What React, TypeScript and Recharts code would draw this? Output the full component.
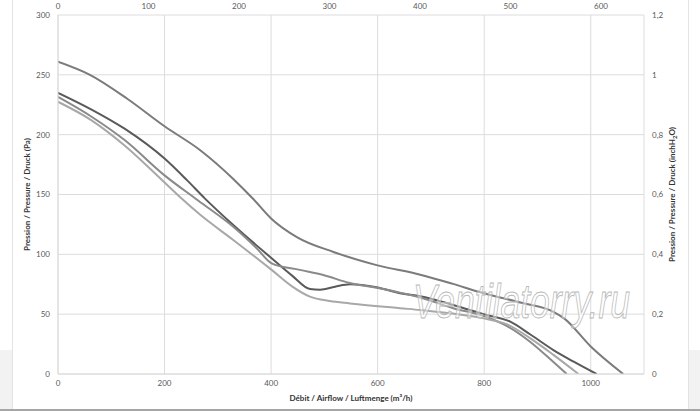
import React from 'react';
import { LineChart, Line, XAxis, YAxis, CartesianGrid, Label } from 'recharts';

// airflow (m³/h) / pressure (Pa)
const curve1X = [0, 60, 130, 200, 267, 329, 367, 400, 450, 517, 598, 680, 740, 799, 870, 930, 950, 1000, 1061];
const curve1Y = [261, 250, 230, 207, 187, 163, 146, 130, 114, 102, 91, 83, 75.5, 67.5, 59.5, 52, 46.5, 23, 0];

const curve2X = [0, 63, 125, 200, 242, 275, 329, 401, 440, 473, 492, 520, 548, 598, 642, 680, 742, 799, 849, 886, 930, 968, 1011];
const curve2Y = [235, 221, 205, 180, 162, 147, 124.5, 96.7, 82, 71, 70.5, 73, 75, 72.5, 67.5, 65, 57.7, 50, 43.7, 33.2, 20, 10.3, 0];

const curve3X = [0, 63, 125, 200, 263, 329, 373, 401, 454, 498, 548, 598, 642, 680, 742, 799, 843, 886, 930, 955];
const curve3Y = [231.5, 215, 195.5, 166, 145, 123, 105, 92.5, 87, 82.7, 76, 72, 68, 64, 55, 48.5, 40, 27, 10, 0];

const curve4X = [0, 63, 125, 200, 231, 267, 329, 401, 440, 473, 510, 548, 642, 680, 736, 799, 843, 886, 930, 977];
const curve4Y = [227.5, 212, 191, 160, 147, 133, 112, 87, 73, 64.6, 61, 59, 55, 53.5, 50.7, 46.5, 41.5, 30, 16, 0];

const curveColors = ['#7b7b7b', '#5a5a5a', '#8a8a8a', '#a8a8a8'];

const flowTicks = [0, 200, 400, 600, 800, 1000];
const cfmTicks = [0, 100, 200, 300, 400, 500, 600];
const paTicks = [0, 50, 100, 150, 200, 250, 300];
const inchTicks = [0, 0.2, 0.4, 0.6, 0.8, 1, 1.2];

const FLOW_MAX = 1100;
const CFM_PER_M3H = 0.5886;
const PA_PER_INCH = 250; // the chart puts 1,2 level with 300 Pa

const toPoints = (xs: number[], ys: number[]) => xs.map((x, i) => ({ flow: x, pa: ys[i] }));

const series = [
  toPoints(curve1X, curve1Y),
  toPoints(curve2X, curve2Y),
  toPoints(curve3X, curve3Y),
  toPoints(curve4X, curve4Y),
];

// same top curve in imperial units, only to drive the top and right axes
const imperial = curve1X.map((x, i) => ({ cfm: x * CFM_PER_M3H, inch: curve1Y[i] / PA_PER_INCH }));

const FONT = 'Lato, "Open Sans", sans-serif';
const tickStyle = { fontSize: 8, fill: '#595959', fontFamily: FONT };
const comma = (v: number) => String(v).replace('.', ',');

const LeftTitle = ({ viewBox }: any) => {
  const cx = viewBox.x + 22;
  const cy = viewBox.y + viewBox.height / 2;
  return (
    <text x={cx} y={cy} transform={`rotate(-90 ${cx} ${cy})`} textAnchor="middle"
      style={{ fontSize: 8, fontWeight: 700, fill: '#333', fontFamily: FONT }}>
      Pression / Pressure / Druck (Pa)
    </text>
  );
};

const RightTitle = ({ viewBox }: any) => {
  const cx = viewBox.x + 31;
  const cy = viewBox.y + viewBox.height / 2;
  return (
    <text x={cx} y={cy} transform={`rotate(-90 ${cx} ${cy})`} textAnchor="middle"
      style={{ fontSize: 8, fontWeight: 700, fill: '#333', fontFamily: FONT }}>
      Pression / Pressure / Druck (inchH<tspan dy={2} fontSize={6}>2</tspan><tspan dy={-2}>O)</tspan>
    </text>
  );
};

const BottomTitle = ({ viewBox }: any) => (
  <text x={viewBox.x + viewBox.width / 2} y={viewBox.y + 27} textAnchor="middle"
    style={{ fontSize: 8, fontWeight: 700, fill: '#333', fontFamily: FONT }}>
    Débit / Airflow / Luftmenge (m³/h)
  </text>
);

export default function App() {
  return (
    <div style={{ position: 'absolute', left: 0, top: 0, width: 700, height: 411, background: '#fff', overflow: 'hidden' }}>
      {/* sheet frame around the chart */}
      <div style={{ position: 'absolute', left: 0, top: 350, width: 12, height: 59, background: '#f2f2f2' }} />
      <div style={{ position: 'absolute', left: 12, top: 0, width: 1, height: 409, background: '#e3e3e3' }} />
      <div style={{ position: 'absolute', left: 689, top: 350, width: 11, height: 59, background: '#f2f2f2' }} />
      <div style={{ position: 'absolute', left: 688, top: 0, width: 1, height: 409, background: '#e3e3e3' }} />
      <div style={{ position: 'absolute', left: 0, top: 409, width: 700, height: 2, background: '#a6a6a6' }} />

      <div style={{ position: 'absolute', left: 0, top: 0 }}>
        <LineChart width={700} height={411} margin={{ top: 0, right: 6, bottom: 7, left: 8 }}>
          <CartesianGrid xAxisId="flow" yAxisId="pa" stroke="#dcdcdc" strokeWidth={1} />
          <XAxis xAxisId="flow" dataKey="flow" type="number" domain={[0, FLOW_MAX]} ticks={flowTicks}
            allowDataOverflow height={30} tickSize={0} tickMargin={6} tick={tickStyle}
            axisLine={{ stroke: '#dcdcdc' }}>
            <Label content={BottomTitle} />
          </XAxis>
          <XAxis xAxisId="cfm" dataKey="cfm" orientation="top" type="number" domain={[0, FLOW_MAX * CFM_PER_M3H]}
            ticks={cfmTicks} allowDataOverflow height={15} tickSize={0} tickMargin={6} tick={tickStyle}
            axisLine={false} />
          <YAxis yAxisId="pa" type="number" domain={[0, 300]} ticks={paTicks} width={50}
            allowDataOverflow tickSize={0} tickMargin={8} tick={tickStyle} axisLine={{ stroke: '#dcdcdc' }}>
            <Label content={LeftTitle} />
          </YAxis>
          <YAxis yAxisId="inch" orientation="right" type="number" domain={[0, 1.2]} ticks={inchTicks}
            allowDataOverflow width={50} tickSize={0} tickMargin={8} tick={tickStyle} tickFormatter={comma}
            axisLine={false}>
            <Label content={RightTitle} />
          </YAxis>
          <Line xAxisId="cfm" yAxisId="inch" data={imperial} dataKey="inch" type="monotone"
            stroke="none" dot={false} activeDot={false} isAnimationActive={false} />
          {series.map((data, i) => (
            <Line key={i} xAxisId="flow" yAxisId="pa" data={data} dataKey="pa" type="monotone"
              stroke={curveColors[i]} strokeWidth={2} dot={false} isAnimationActive={false} />
          ))}
        </LineChart>
      </div>

      <svg width={700} height={411} style={{ position: 'absolute', left: 0, top: 0, pointerEvents: 'none' }}>
        <g transform="translate(413 318) scale(1 1.36)">
          <text x={0} y={0}
            style={{ fontSize: 35.5, fontStyle: 'italic', fontFamily: '"Liberation Sans", sans-serif', fill: 'rgba(255,255,255,0.45)', stroke: '#b8b8b8', strokeWidth: 0.7 }}>
            Ventilatorry.ru
          </text>
        </g>
      </svg>
    </div>
  );
}
